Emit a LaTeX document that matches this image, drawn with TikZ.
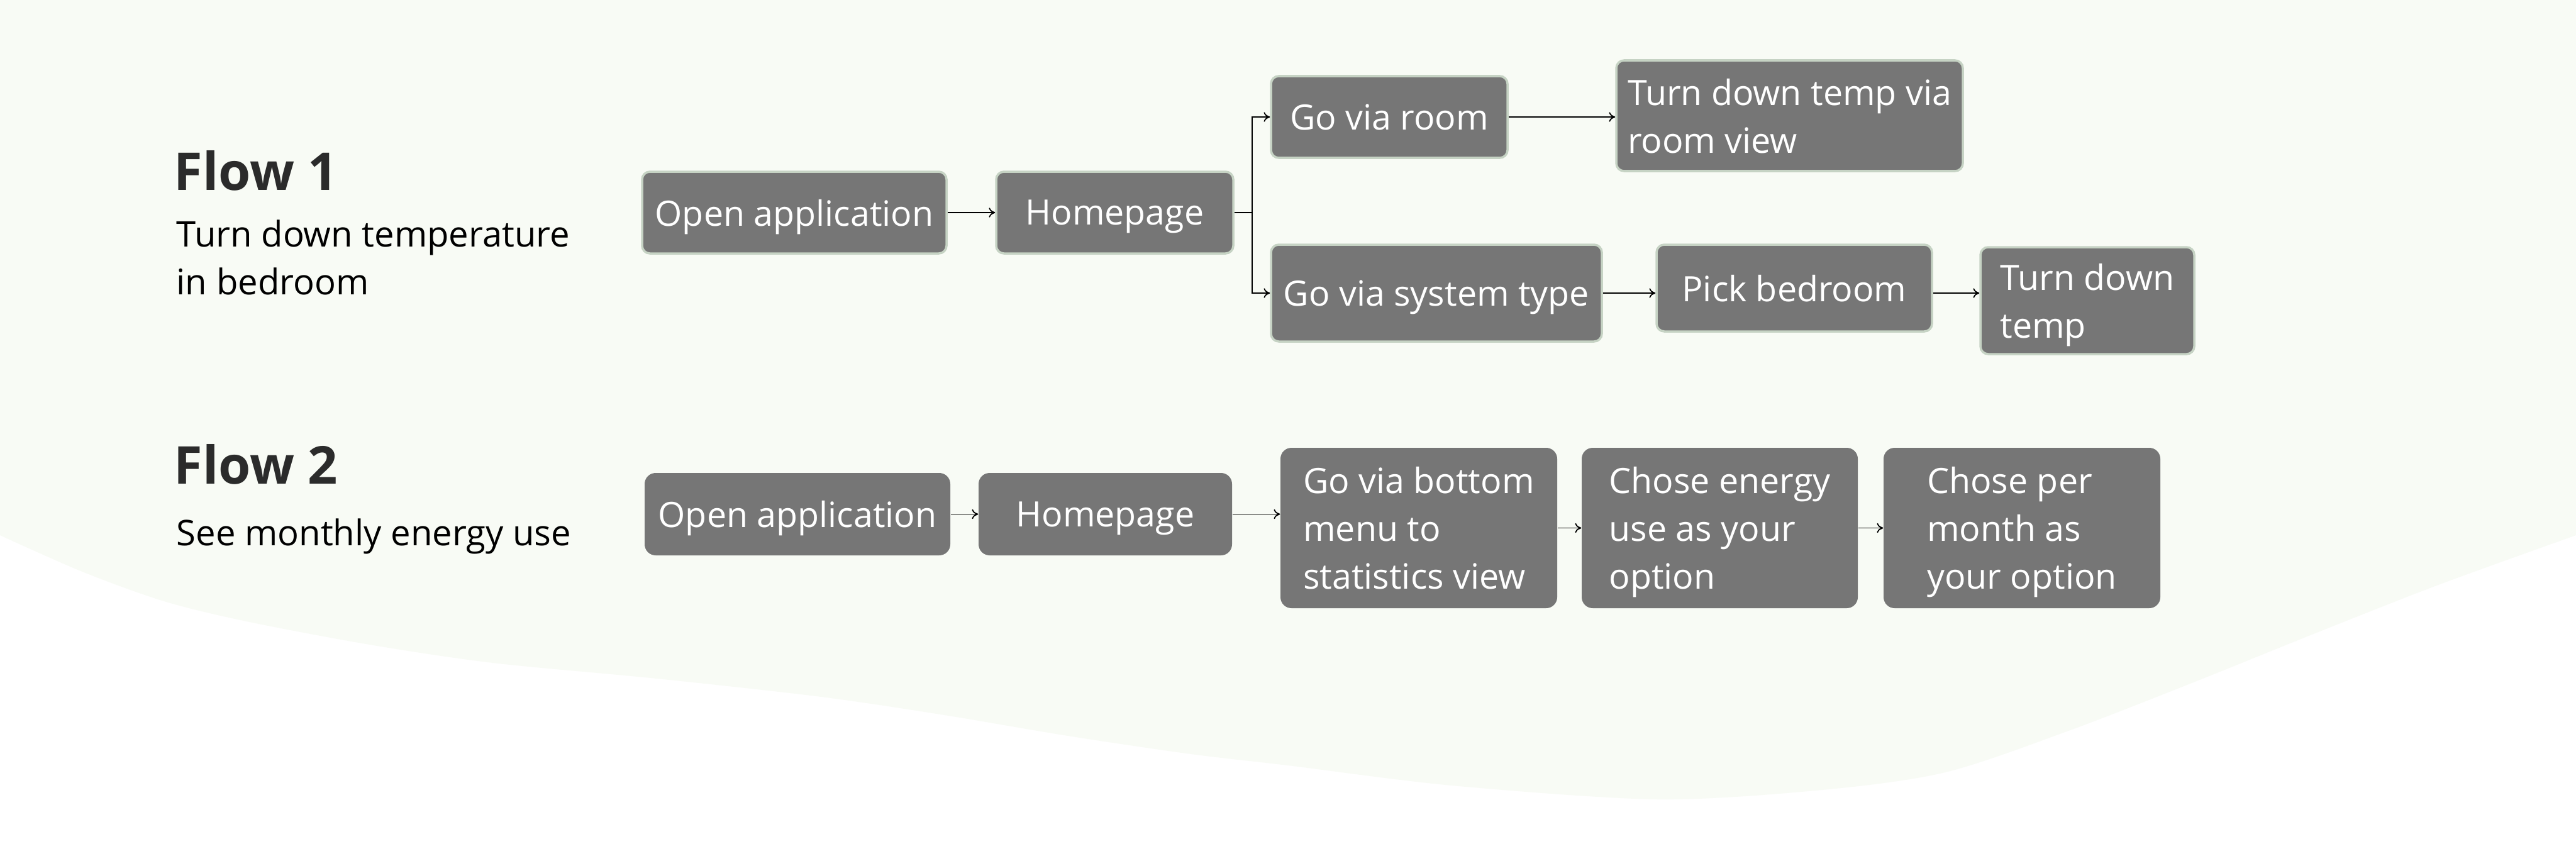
\documentclass[tikz,border=0pt]{standalone}
\usepackage{fontspec}
\setmainfont{Open Sans}
\usetikzlibrary{arrows.meta}
\definecolor{bgTint}{RGB}{248,251,245}
\definecolor{boxGrey}{RGB}{118,118,118}
\definecolor{boxEdge}{RGB}{198,211,196}
\definecolor{titleInk}{RGB}{43,43,43}
\newcommand{\boxFont}{\fontsize{15.8}{21.6}\selectfont}
\tikzstyle{flowSheet} = [y = -1cm]
\tikzstyle{stepBox} = [rectangle, fill=boxGrey, text=white, font=\boxFont, align=left, inner sep=0pt, text depth=0pt]
\tikzstyle{flowOneBox} = [stepBox, draw=boxEdge, line width=1pt, rounded corners=3.5pt]
\tikzstyle{flowTwoBox} = [stepBox, rounded corners=5pt]
\tikzstyle{flowTitle} = [anchor=base west, inner sep=0pt, text=titleInk, font=\fontsize{23.6}{29}\selectfont\bfseries]
\tikzstyle{flowNote} = [anchor=base west, inner sep=0pt, align=left, font=\fontsize{16}{21.4}\selectfont]
\tikzstyle{flowArrow} = [-{To[length=2.8pt,width=4.4pt]}, line width=0.5pt]
\newcommand{\flowStep}[7]{\node [#1, minimum width=#5cm, minimum height=#6cm] (#2) at (#3,#4) {#7};}

\begin{document}
\begin{tikzpicture}[flowSheet]
  \useasboundingbox (0,0) rectangle (40.96,13.68);
  \fill [white] (0,0) rectangle (40.96,13.68);
  % tinted backdrop with wavy lower edge
  \fill [bgTint] (0,0) -- (40.96,0) -- (40.96,8.51) -- plot [smooth] coordinates {(40.96,8.51) (38.77,9.30) (36.81,10.07) (34.85,10.86) (32.89,11.62) (30.93,12.28) (28.97,12.56) (26.36,12.71) (23.09,12.49) (20.48,12.17) (18.94,11.99) (16.98,11.70) (15.02,11.37) (13.06,11.08) (10.45,10.79) (7.84,10.54) (5.88,10.25) (3.92,9.88) (2.61,9.56) (1.31,9.09) (0,8.51)} -- cycle;

  % flow 1
  \node [flowTitle] (titleOne) at (2.76,3.02) {Flow 1};
  \node [flowNote] (noteOne) at (2.80,4.68) {Turn down temperature\\in bedroom};
  \flowStep{flowOneBox}{openOne}{12.63}{3.38}{4.84}{1.30}{Open application}
  \flowStep{flowOneBox}{homeOne}{17.725}{3.38}{3.77}{1.30}{Homepage}
  \flowStep{flowOneBox}{viaRoom}{22.09}{1.86}{3.76}{1.30}{Go via room}
  \flowStep{flowOneBox}{roomView}{28.455}{1.84}{5.51}{1.76}{Turn down temp via\\room view}
  \flowStep{flowOneBox}{viaSystem}{22.84}{4.66}{5.26}{1.54}{Go via system type}
  \flowStep{flowOneBox}{pickRoom}{28.53}{4.58}{4.38}{1.38}{Pick bedroom}
  \flowStep{flowOneBox}{lowerTemp}{33.19}{4.78}{3.40}{1.70}{Turn down\\temp}
  \draw [flowArrow] (openOne) -- (homeOne);
  \draw [flowArrow] (homeOne.east) -- ++(0.28,0) |- (viaRoom.west);
  \draw [flowArrow] (homeOne.east) -- ++(0.28,0) |- (viaSystem.west);
  \draw [flowArrow] (viaRoom.east) -- (roomView.west |- viaRoom.east);
  \draw [flowArrow] (viaSystem.east) -- (pickRoom.west |- viaSystem.east);
  \draw [flowArrow] (pickRoom.east |- viaSystem.east) -- (lowerTemp.west |- viaSystem.east);

  % flow 2
  \node [flowTitle] (titleTwo) at (2.76,7.69) {Flow 2};
  \node [flowNote] (noteTwo) at (2.80,8.67) {See monthly energy use};
  \flowStep{flowTwoBox}{openTwo}{12.68}{8.175}{4.86}{1.31}{Open application}
  \flowStep{flowTwoBox}{homeTwo}{17.575}{8.175}{4.03}{1.31}{Homepage}
  \flowStep{flowTwoBox}{bottomMenu}{22.56}{8.395}{4.40}{2.55}{Go via bottom\\menu to\\statistics view}
  \flowStep{flowTwoBox}{energyUse}{27.345}{8.395}{4.39}{2.55}{Chose energy\\use as your\\option}
  \flowStep{flowTwoBox}{perMonth}{32.15}{8.395}{4.40}{2.55}{Chose per\\month as\\your option}
  \draw [flowArrow] (openTwo) -- (homeTwo);
  \draw [flowArrow] (homeTwo.east) -- (bottomMenu.west |- homeTwo.east);
  \draw [flowArrow] (bottomMenu) -- (energyUse);
  \draw [flowArrow] (energyUse) -- (perMonth);
\end{tikzpicture}
\end{document}
